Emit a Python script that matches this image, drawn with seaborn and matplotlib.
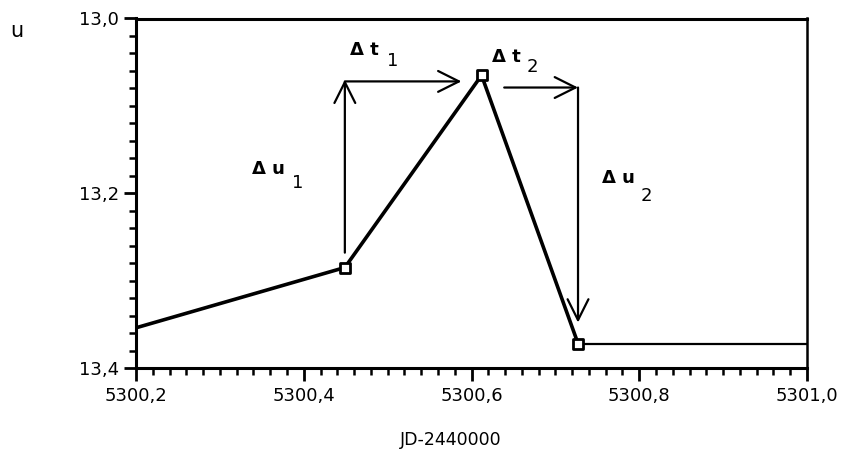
import matplotlib
matplotlib.use("Agg")
import matplotlib.pyplot as plt
from matplotlib.ticker import MultipleLocator, FuncFormatter
import seaborn as sns
import pandas as pd

# ---- data ----
jd = [5300.2, 5300.449, 5300.612, 5300.727, 5301.0]
mag = [13.354, 13.285, 13.065, 13.372, 13.372]
marked = [1, 2, 3]  # indices of observed points drawn with square markers

x_ticks = [5300.2, 5300.4, 5300.6, 5300.8, 5301.0]
y_ticks = [13.0, 13.2, 13.4]

# annotation arrows (data coordinates)
du1 = ((5300.449, 13.268), (5300.449, 13.070))
dt1 = ((5300.449, 13.072), (5300.588, 13.072))
dt2 = ((5300.639, 13.079), (5300.727, 13.079))
du2 = ((5300.727, 13.079), (5300.727, 13.348))

sns.set_style("ticks")
plt.rcParams["font.family"] = ["DejaVu Sans"]
plt.rcParams["text.color"] = "black"
plt.rcParams["axes.labelcolor"] = "black"
plt.rcParams["xtick.color"] = "black"
plt.rcParams["ytick.color"] = "black"

fig = plt.figure(figsize=(8.44, 4.5), dpi=100)
ax = fig.add_axes([136 / 844, 1 - 368 / 450, (807 - 136) / 844, (368 - 18.5) / 450])

df_main = pd.DataFrame({"jd": jd[:4], "mag": mag[:4]})
df_tail = pd.DataFrame({"jd": jd[3:], "mag": mag[3:]})
df_pts = pd.DataFrame({"jd": [jd[i] for i in marked], "mag": [mag[i] for i in marked]})

sns.lineplot(data=df_main, x="jd", y="mag", sort=False, color="black", lw=2.6, ax=ax)
sns.lineplot(data=df_tail, x="jd", y="mag", sort=False, color="black", lw=1.6, ax=ax)
sns.scatterplot(data=df_pts, x="jd", y="mag", marker="s", s=45, facecolor="white",
                edgecolor="black", linewidth=2.0, zorder=5, ax=ax)

ax.set_xlim(x_ticks[0], x_ticks[-1])
ax.set_ylim(y_ticks[-1], y_ticks[0])
ax.xaxis.set_major_locator(MultipleLocator(0.2))
ax.xaxis.set_minor_locator(MultipleLocator(0.02))
ax.yaxis.set_major_locator(MultipleLocator(0.2))
ax.yaxis.set_minor_locator(MultipleLocator(0.02))
fmt = FuncFormatter(lambda v, p: f"{v:.1f}".replace(".", ","))
ax.xaxis.set_major_formatter(fmt)
ax.yaxis.set_major_formatter(fmt)
ax.tick_params(axis="both", which="major", direction="out", length=9, width=2,
               labelsize=13, pad=5, color="black", labelcolor="black")
ax.tick_params(axis="both", which="minor", direction="out", length=5, width=1.8, color="black")
ax.tick_params(axis="y", which="major", pad=3)
ax.set_xlabel("")
ax.set_ylabel("")
for side in ["left", "bottom", "top", "right"]:
    ax.spines[side].set_visible(True)
    ax.spines[side].set_color("black")
    ax.spines[side].set_linewidth(2.2)
ax.spines["right"].set_linewidth(1.8)

arrow_kw = dict(arrowstyle="->,head_length=1.0,head_width=0.5", color="black", lw=1.6,
                mutation_scale=15, shrinkA=0, shrinkB=0)
for (start, end) in [du1, dt1, dt2, du2]:
    ax.annotate("", xy=end, xytext=start, arrowprops=arrow_kw)

# labels
def delta_label(x, y, main, sub, dx, dy):
    ax.text(x, y, main, fontsize=13, fontweight="bold", ha="left", va="center", color="black")
    ax.annotate(sub, xy=(x, y), xycoords="data", xytext=(dx, dy), textcoords="offset pixels",
                fontsize=13, ha="left", va="center", color="black")

delta_label(5300.455, 13.036, "Δ t", "1", 37, -11)
delta_label(5300.625, 13.044, "Δ t", "2", 34, -10)
delta_label(5300.338, 13.172, "Δ u", "1", 40, -14)
delta_label(5300.755, 13.182, "Δ u", "2", 39, -18)

fig.text(17 / 844, 1 - 31 / 450, "u", fontsize=15, ha="center", va="center", color="black")
fig.text(451 / 844, 1 - 440 / 450, "JD-2440000", fontsize=12.5, ha="center", va="center",
         color="black")

fig.savefig("out.png", dpi=100)
